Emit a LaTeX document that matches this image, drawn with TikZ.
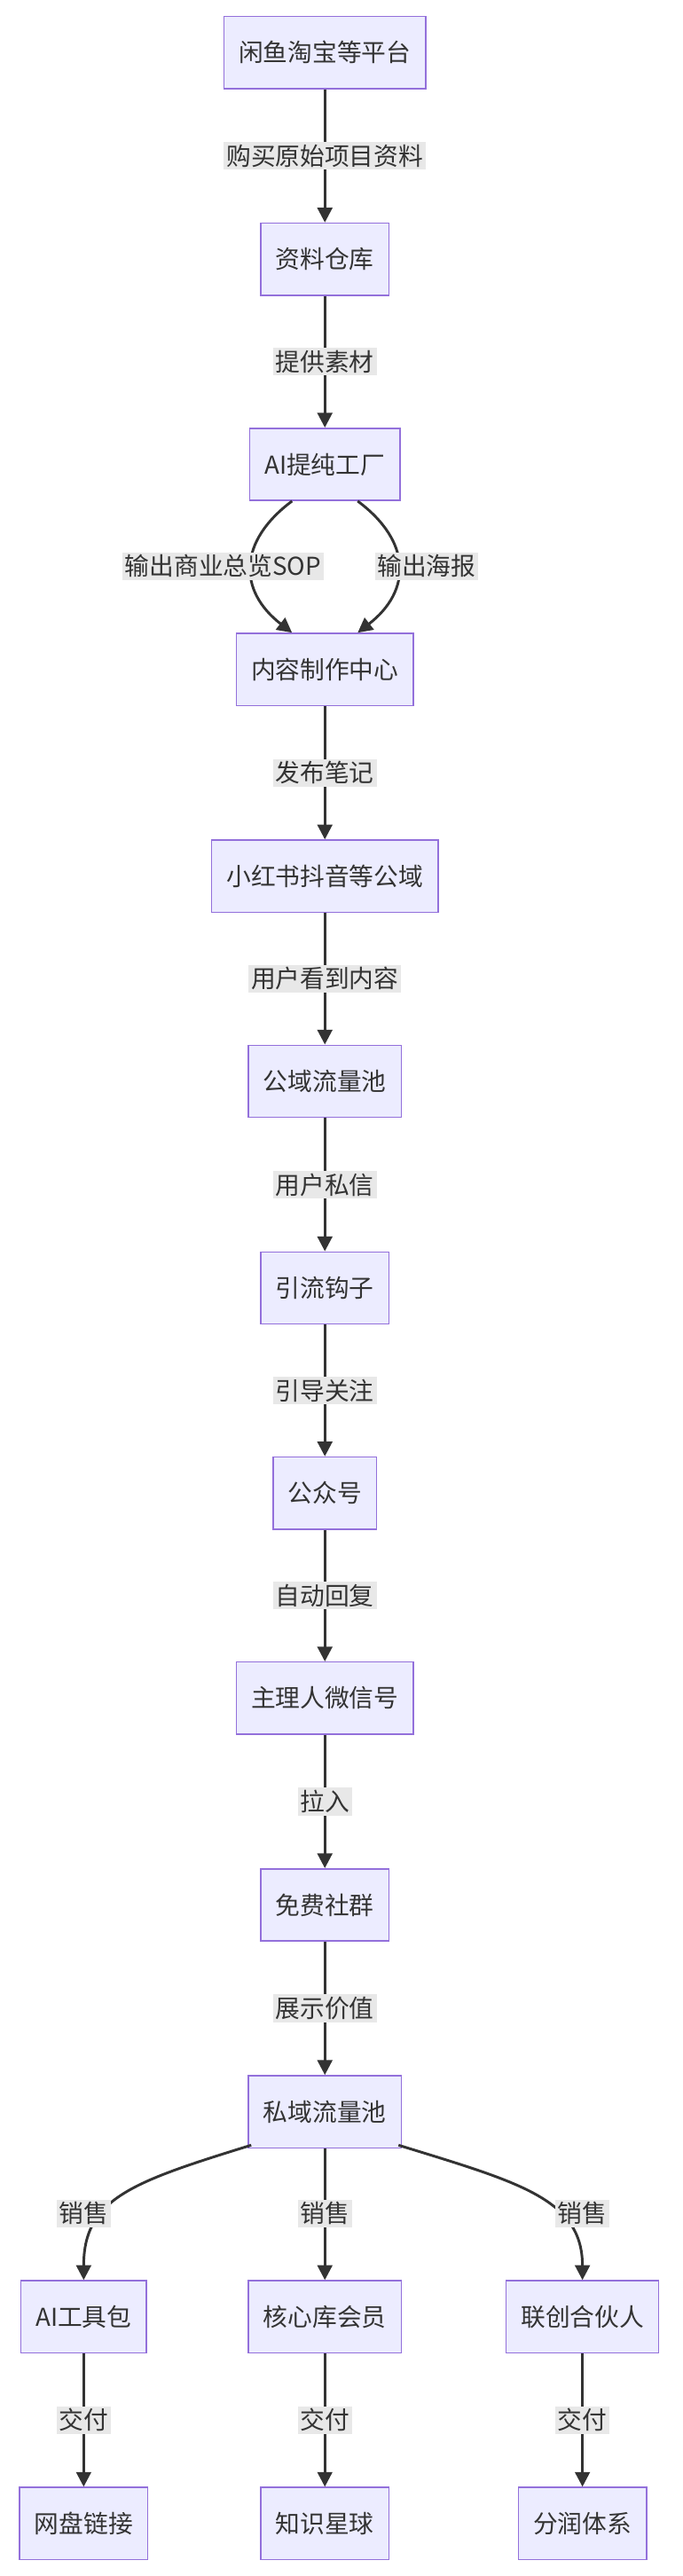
\documentclass[tikz,border=0pt]{standalone}
\usepackage{fontspec}
\setmainfont{Noto Sans CJK SC}
\usetikzlibrary{arrows.meta}
\definecolor{nfill}{HTML}{ECECFF}
\definecolor{nstroke}{HTML}{9370DB}
\definecolor{edge}{HTML}{333333}
\definecolor{lbg}{HTML}{E8E8E8}
\begin{document}
\begin{tikzpicture}[x=1pt,y=-1pt,
  box/.style={draw=nstroke,fill=nfill,line width=0.8pt,minimum height=44pt,inner xsep=9pt,font=\fontsize{15}{18}\selectfont,text=edge},
  lab/.style={fill=lbg,inner sep=1.5pt,font=\fontsize{15}{18}\selectfont,text=edge},
  arr/.style={draw=edge,line width=1.6pt,-{Triangle[length=9pt,width=9pt]}}]
\useasboundingbox (0,0) rectangle (416,1570);
\node[box] (a) at (198,32) {闲鱼淘宝等平台};
\node[box] (b) at (198,158) {资料仓库};
\node[box] (c) at (198,283) {AI提纯工厂};
\node[box] (d) at (198,408) {内容制作中心};
\node[box] (e) at (198,534) {小红书抖音等公域};
\node[box] (f) at (198,659) {公域流量池};
\node[box] (g) at (198,785) {引流钩子};
\node[box] (h) at (198,910) {公众号};
\node[box] (i) at (198,1035) {主理人微信号};
\node[box] (j) at (198,1161) {免费社群};
\node[box] (k) at (198,1287) {私域流量池};
\node[box] (l1) at (51,1412) {AI工具包};
\node[box] (l2) at (198,1412) {核心库会员};
\node[box] (l3) at (355,1412) {联创合伙人};
\node[box] (m1) at (51,1538) {网盘链接};
\node[box] (m2) at (198,1538) {知识星球};
\node[box] (m3) at (355,1538) {分润体系};
\foreach \u/\v/\t in {a/b/购买原始项目资料,b/c/提供素材,d/e/发布笔记,e/f/用户看到内容,f/g/用户私信,g/h/引导关注,h/i/自动回复,i/j/拉入,j/k/展示价值,l1/m1/交付,l2/m2/交付,l3/m3/交付}{
  \draw[arr] (\u) -- (\v) node[midway,lab]{\t};}
\draw[arr] (c.south -| 178,0) .. controls (145,330) and (145,360) .. (d.north -| 178,0);
\draw[arr] (c.south -| 218,0) .. controls (251,330) and (251,360) .. (d.north -| 218,0);
\node[lab] at (136,345) {输出商业总览SOP};
\node[lab] at (260,345) {输出海报};
\draw[arr] (k.south west) ++(2,-2) .. controls (80,1330) and (51,1340) .. (l1.north);
\draw[arr] (k.south east) ++(-2,-2) .. controls (316,1330) and (355,1340) .. (l3.north);
\draw[arr] (k) -- (l2);
\node[lab] at (51,1349) {销售};
\node[lab] at (198,1349) {销售};
\node[lab] at (355,1349) {销售};
\end{tikzpicture}
\end{document}
